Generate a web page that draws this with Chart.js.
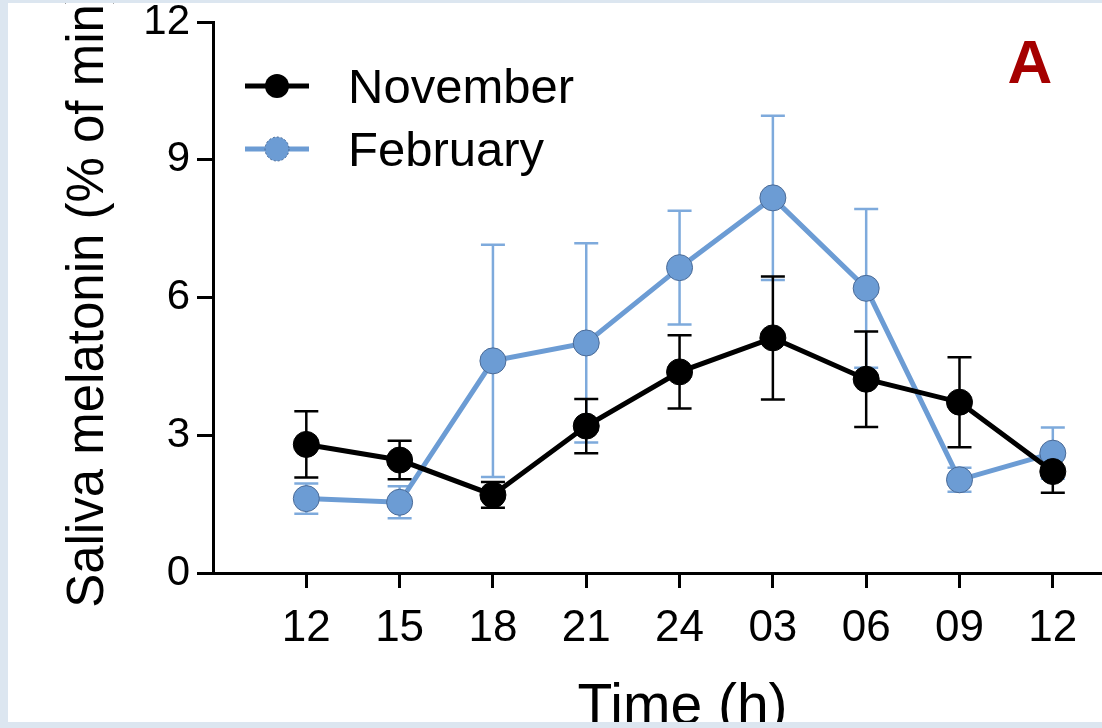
<!DOCTYPE html>
<html>
<head>
<meta charset="utf-8">
<script src="https://cdn.jsdelivr.net/npm/chart.js"></script>
<style>
  body { margin: 0; background: #dce6f0; }
  #frame { position: absolute; left: 8px; top: 3px; width: 1094px; height: 719px; background: #fff; overflow: hidden; }
  /* canvas a bit wider than the white panel: the layout keeps ~18px free on the right */
  #box { position: relative; width: 1112px; height: 760px; }
</style>
</head>
<body>
<div id="frame"><div id="box"><canvas id="melChart"></canvas></div></div>
<script>
// values (mean +/- error)
const timeLabels = ["12", "15", "18", "21", "24", "03", "06", "09", "12"];
const novMean = [2.80, 2.46, 1.70, 3.20, 4.38, 5.12, 4.22, 3.72, 2.21];
const novErr  = [0.72, 0.42, 0.28, 0.59, 0.80, 1.34, 1.04, 0.98, 0.46];
const febMean = [1.62, 1.54, 4.62, 5.01, 6.65, 8.17, 6.20, 2.03, 2.61];
const febErr  = [0.33, 0.35, 2.53, 2.17, 1.24, 1.79, 1.73, 0.26, 0.56];
const seriesNames = ["November", "February"];

const FONT = '"Liberation Sans", Arial, sans-serif';
const BLACK = '#000000';
const BLUE = '#6c9cd4';
const BLUE_ERR = '#7eaadc';

Chart.defaults.font.family = FONT;
Chart.defaults.color = '#000';

function toPoints(arr) {
    return arr.map(function (v, i) { return { x: i, y: v }; });
}

// error bars drawn behind the lines/points
const errorBars = {
    id: 'errorBars',
    beforeDatasetsDraw: function (chart) {
        const ctx = chart.ctx;
        const xs = chart.scales.x, ys = chart.scales.y;
        const sets = [[febMean, febErr, BLUE_ERR], [novMean, novErr, BLACK]];
        ctx.save();
        sets.forEach(function (s) {
            ctx.strokeStyle = s[2];
            ctx.lineWidth = 2.5;
            for (var i = 0; i < s[0].length; i++) {
                var px = xs.getPixelForValue(i);
                var top = ys.getPixelForValue(s[0][i] + s[1][i]);
                var bot = ys.getPixelForValue(s[0][i] - s[1][i]);
                ctx.beginPath();
                ctx.moveTo(px, top); ctx.lineTo(px, bot);
                ctx.moveTo(px - 12, top); ctx.lineTo(px + 12, top);
                ctx.moveTo(px - 12, bot); ctx.lineTo(px + 12, bot);
                ctx.stroke();
            }
        });
        ctx.restore();
    }
};

// legend, panel letter and x title
const extras = {
    id: 'extras',
    afterDraw: function (chart) {
        const ctx = chart.ctx;
        const xs = chart.scales.x;
        ctx.save();
        var rows = [[seriesNames[0], BLACK, BLACK, 83], [seriesNames[1], BLUE, BLUE, 146]];
        rows.forEach(function (r) {
            ctx.strokeStyle = r[1];
            ctx.lineWidth = 5;
            ctx.beginPath();
            ctx.moveTo(237, r[3]); ctx.lineTo(301, r[3]);
            ctx.stroke();
            ctx.beginPath();
            ctx.arc(269, r[3], 12, 0, Math.PI * 2);
            ctx.fillStyle = r[2];
            ctx.fill();
            if (r[1] === BLUE) {
                ctx.setLineDash([2, 2]);
                ctx.lineWidth = 1;
                ctx.strokeStyle = '#4a6a96';
                ctx.stroke();
                ctx.setLineDash([]);
            }
            ctx.fillStyle = '#000';
            ctx.font = '49px ' + FONT;
            ctx.textAlign = 'left';
            ctx.textBaseline = 'middle';
            ctx.fillText(r[0], 340, r[3] + 3);
        });

        ctx.fillStyle = '#a50000';
        ctx.font = 'bold 62px ' + FONT;
        ctx.textAlign = 'center';
        ctx.textBaseline = 'alphabetic';
        ctx.fillText('A', 1022, 80);

        ctx.fillStyle = '#000';
        ctx.font = '57px ' + FONT;
        var cx = (xs.getPixelForValue(0) + xs.getPixelForValue(timeLabels.length - 1)) / 2;
        ctx.fillText('Time (h)', cx + 3, 721);
        ctx.restore();
    }
};

new Chart('melChart', {
    type: 'line',
    data: {
        datasets: [{
            label: seriesNames[0],
            data: toPoints(novMean),
            borderColor: BLACK,
            backgroundColor: BLACK,
            borderWidth: 5,
            pointRadius: 13,
            pointBackgroundColor: BLACK,
            pointBorderColor: BLACK,
            pointBorderWidth: 1
        }, {
            label: seriesNames[1],
            data: toPoints(febMean),
            borderColor: BLUE,
            backgroundColor: BLUE,
            borderWidth: 5,
            pointRadius: 13,
            pointBackgroundColor: BLUE,
            pointBorderColor: '#4a6a96',
            pointBorderWidth: 1
        }]
    },
    options: {
        responsive: true,
        maintainAspectRatio: false,
        animation: false,
        devicePixelRatio: 1,
        layout: { padding: { top: 19, left: 0, right: 0, bottom: 0 } },
        plugins: {
            legend: { display: false },
            tooltip: { enabled: false }
        },
        scales: {
            x: {
                type: 'linear',
                min: -1,
                max: 8.57,
                afterBuildTicks: function (scale) {
                    scale.ticks = timeLabels.map(function (_, i) { return { value: i }; });
                },
                afterFit: function (scale) {
                    scale.height = 190;
                    scale.paddingLeft = 0;
                    scale.paddingRight = 0;
                },
                ticks: {
                    callback: function (v) { return timeLabels[v]; },
                    font: { size: 44, lineHeight: 1.2 },
                    padding: 14,
                    maxRotation: 0,
                    autoSkip: false
                },
                grid: { drawOnChartArea: false, tickLength: 15, color: '#000', lineWidth: 3 },
                border: { display: true, color: '#000', width: 3 }
            },
            y: {
                min: 0,
                max: 12,
                afterFit: function (scale) {
                    scale.width = 205;
                    scale.paddingTop = 0;
                    scale.paddingBottom = 0;
                },
                ticks: {
                    stepSize: 3,
                    font: { size: 42, lineHeight: 0.9 },
                    padding: 7
                },
                grid: { drawOnChartArea: false, tickLength: 16, color: '#000', lineWidth: 3 },
                border: { display: true, color: '#000', width: 3 },
                title: {
                    display: true,
                    text: 'Saliva melatonin (% of min)',
                    font: { size: 51, lineHeight: 1 },
                    padding: { top: 55, bottom: 0 }
                }
            }
        }
    },
    plugins: [errorBars, extras]
});
</script>
</body>
</html>
